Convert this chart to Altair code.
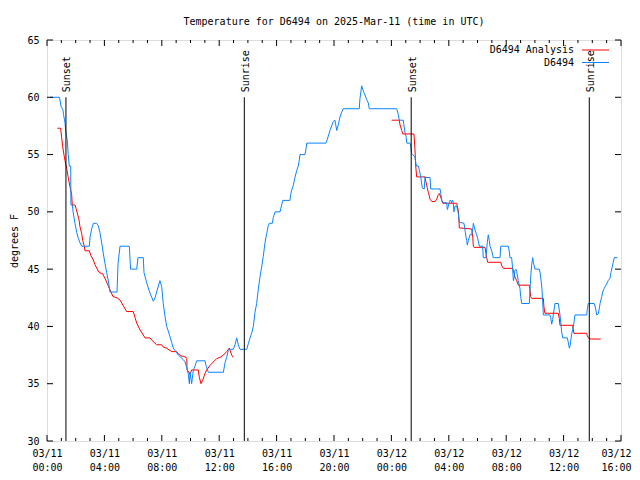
import altair as alt
import pandas as pd

# ---------------- data (hours since 2025-03-11 00:00 UTC, degrees F) ----------------
obs_hours = [0.21, 0.87, 0.98, 1.11, 1.15, 1.25, 1.32, 1.41, 1.48, 1.55, 1.65, 1.67, 1.76, 1.83, 1.95,
             2.07, 2.18, 2.30, 2.42, 2.95, 3.00, 3.11, 3.23, 3.46, 3.57, 3.69, 3.81, 3.92, 4.04, 4.16,
             4.27, 4.39, 4.88, 4.95, 5.09, 5.74, 5.82, 6.25, 6.34, 6.71, 6.76, 6.95, 7.18, 7.41, 7.53,
             7.64, 7.87, 7.99, 8.10, 8.22, 8.34, 8.45, 8.57, 8.69, 8.80, 8.92, 9.04, 9.15, 9.50, 9.62,
             9.74, 9.85, 9.92, 9.97, 10.08, 10.20, 10.31, 10.43, 11.01, 11.08, 11.24, 12.29, 12.40, 12.52, 12.63,
             12.70, 12.98, 13.10, 13.22, 13.33, 13.45, 13.92, 14.03, 14.15, 14.26, 14.38, 14.49, 14.61, 14.72, 14.84,
             14.96, 15.07, 15.19, 15.31, 15.42, 15.49, 15.70, 15.77, 15.89, 16.24, 16.43, 16.93, 16.98, 17.05, 17.16,
             17.28, 17.40, 17.51, 17.58, 17.63, 17.98, 18.05, 18.10, 19.44, 19.53, 19.60, 19.72, 19.84, 19.95, 20.07,
             20.19, 20.30, 20.42, 20.54, 20.65, 21.76, 21.81, 21.93, 22.00, 22.09, 22.16, 22.28, 22.39, 22.46, 24.37,
             24.48, 24.55, 24.83, 24.88, 24.95, 25.02, 25.07, 25.30, 25.35, 25.41, 25.48, 25.64, 25.71, 25.76, 25.87,
             25.94, 25.99, 26.06, 26.15, 26.29, 26.34, 26.69, 26.74, 27.39, 27.44, 27.51, 27.58, 27.85, 27.90, 27.97,
             28.03, 28.08, 28.15, 28.20, 28.27, 28.31, 28.36, 28.43, 28.55, 28.66, 28.73, 29.06, 29.13, 29.20, 29.25,
             29.29, 29.36, 29.43, 29.48, 29.60, 29.67, 29.71, 29.78, 29.83, 29.94, 30.01, 30.06, 30.13, 30.36, 30.40,
             30.59, 30.68, 30.75, 30.82, 30.87, 30.99, 31.06, 31.10, 31.57, 31.62, 32.15, 32.22, 32.26, 32.38, 32.45,
             32.50, 32.56, 32.61, 32.68, 32.73, 32.77, 32.84, 32.91, 32.96, 33.01, 33.08, 33.61, 33.66, 33.73, 33.78,
             33.85, 33.89, 34.01, 34.31, 34.36, 34.43, 34.49, 34.54, 34.59, 35.05, 35.10, 35.17, 35.24, 35.28, 35.40,
             35.63, 35.75, 35.82, 35.87, 35.94, 36.26, 36.33, 36.40, 36.45, 36.49, 36.56, 36.63, 36.72, 36.79, 37.61,
             37.65, 37.72, 38.14, 38.24, 38.31, 38.42, 38.49, 38.54, 38.66, 38.72, 38.82, 38.95, 39.11, 39.23, 39.30,
             39.39, 39.46, 39.53, 39.74]
obs_temps = [60, 60, 59.2, 58.9, 58.5, 57.8, 56.9, 56.3, 55, 54, 54, 50.6, 50.6, 49.9, 49,
             48.2, 47.7, 47.3, 47, 47, 47.8, 48.5, 49, 49, 48.8, 48.2, 47.3, 46.4, 45.5, 44.7,
             44, 43, 43, 45.5, 47, 47, 45, 45, 46, 46, 44.7, 43.8, 42.9, 42.2, 42.5,
             43, 44, 43.5, 42, 40.9, 40, 39.6, 39.1, 38.6, 38.1, 37.9, 37.7, 37.5, 37.1, 36.9,
             36.4, 35.8, 35, 36, 35, 36.2, 36.5, 37, 37, 36.6, 36, 36, 36.8, 37.3, 37.9,
             38, 38, 38.4, 39, 38.4, 38, 38, 38.5, 39, 39.4, 40, 41.2, 42, 43.2, 44.3,
             45.2, 46.1, 47.3, 48.1, 48.8, 49, 49, 49.5, 50, 50, 51, 51, 51.5, 51.9, 52.3,
             53, 53.6, 54, 54.5, 55, 55, 55.5, 56, 56, 56.3, 56.6, 57.1, 57.5, 57.9, 58,
             57.1, 57.6, 58.3, 58.7, 59, 59, 59.9, 61, 60.7, 60.4, 60.2, 59.8, 59.5, 59, 59,
             58.5, 58, 58, 57.5, 56.9, 56.6, 56, 56, 55.7, 55.1, 55, 54.8, 54.2, 54, 54,
             53.7, 53.4, 52.9, 52.1, 52, 53, 53, 52, 52, 51.6, 51, 50.8, 50.8, 50.2, 50.5,
             50.8, 51, 51, 50.8, 51, 50.8, 50, 50.5, 50.5, 49.9, 49.1, 49, 48.4, 47.8, 47.5,
             47.1, 47.5, 47.8, 48, 48, 48.5, 49, 48.7, 48.4, 48, 47.7, 47.4, 47, 47, 46,
             46, 47.3, 48, 47.5, 47, 46.6, 46.2, 46, 46, 47, 47, 46.5, 46, 46, 45,
             44, 44.3, 44.9, 45, 44.8, 44.5, 44, 43.6, 43.3, 42.6, 42, 42, 43.3, 44.7, 45.4,
             46, 45.6, 45, 45, 44.7, 44, 43.3, 42.2, 41, 41, 40.8, 40.2, 40.6, 41, 42,
             42, 41, 40.1, 39.5, 39, 39, 38.6, 38.1, 38.3, 38.7, 39.3, 39.7, 40.3, 41, 41,
             41.5, 42, 42, 41.5, 41, 41.1, 41.6, 42, 42.6, 43, 43.3, 43.6, 44, 44.2, 44.7,
             45.2, 45.6, 46, 46]

ana1_hours = [0.72, 0.95, 1.02, 1.09, 1.18, 1.25, 1.37, 1.48, 1.60, 1.72, 1.76, 1.95, 2.02, 2.11, 2.23,
              2.30, 2.42, 2.49, 2.60, 2.65, 2.95, 3.05, 3.23, 3.34, 3.46, 3.64, 3.88, 4.04, 4.39, 4.60,
              4.88, 5.09, 5.32, 5.55, 6.01, 6.13, 6.25, 6.48, 6.71, 6.83, 7.18, 7.30, 7.64, 7.99, 8.10,
              8.34, 8.57, 8.69, 9.04, 9.15, 9.27, 9.39, 9.50, 9.69, 9.74, 9.76, 9.85, 9.97, 10.08, 10.54,
              10.61, 10.73, 10.85, 11.01, 11.13, 11.36, 11.59, 11.83, 12.06, 12.29, 12.52, 12.70, 12.87, 12.98]
ana1_temps = [57.3, 57.3, 56.5, 55.7, 55, 54.5, 53.8, 53, 52.2, 51.5, 50.6, 50.6, 50.3, 49.9, 49.3,
              48.7, 48.1, 47.5, 47, 46.6, 46.6, 46.2, 45.8, 45.4, 45.1, 44.7, 44.6, 44.2, 43.2, 42.6,
              42.5, 42.3, 41.8, 41.3, 41.3, 40.8, 40.3, 39.7, 39.25, 39, 39, 38.8, 38.4, 38.4, 38.2,
              38.1, 37.9, 37.8, 37.8, 37.6, 37.5, 37.4, 37.4, 37.3, 37.2, 36.2, 36.1, 35.8, 36.2, 36.2,
              35.6, 35, 35.3, 35.9, 36.2, 36.6, 36.9, 37.2, 37.3, 37.5, 37.8, 38.1, 37.5, 37.3]
ana2_hours = [24.02, 24.55, 24.60, 24.72, 24.79, 25.57, 25.64, 25.69, 25.76, 26.34, 26.41, 26.50, 26.57, 26.64, 26.69,
              26.81, 27.04, 27.16, 27.23, 27.34, 27.44, 27.51, 27.58, 28.55, 28.66, 28.71, 28.73, 29.60, 29.67, 29.71,
              29.76, 30.52, 30.59, 30.64, 30.71, 31.62, 31.69, 31.80, 32.45, 32.50, 32.56, 32.61, 32.73, 32.84, 33.61,
              33.66, 33.71, 33.78, 34.59, 34.63, 34.70, 35.63, 35.70, 35.75, 36.63, 36.68, 36.72, 37.61, 37.65, 37.72,
              37.84, 38.59]
ana2_temps = [58, 58, 57.6, 57.1, 56.8, 56.8, 55.5, 54.1, 53.05, 53.05, 52.6, 52.1, 51.7, 51.4, 51.1,
              50.9, 50.9, 51.1, 51.4, 51.6, 51.3, 51, 50.75, 50.75, 50.1, 49.3, 48.6, 48.5, 47.8, 47,
              46.9, 46.9, 46.4, 46, 45.6, 45.6, 45.3, 45.07, 45.07, 44.9, 44.6, 44.3, 44, 43.6, 43.6,
              43.2, 42.6, 42.45, 42.45, 41.7, 41.15, 41.15, 40.7, 40.1, 40.1, 39.7, 39.4, 39.4, 39.2, 39.0,
              38.9, 38.9]

series_names = ["D6494 Analysis", "D6494"]
series_colors = ["#ff0000", "#0a84ff"]

event_names = ["Sunset", "Sunrise", "Sunset", "Sunrise"]
event_hours = [1.32, 13.75, 25.38, 37.79]

major_x = list(range(0, 41, 4))
minor_x = [h for h in range(0, 41) if h % 4 != 0]
major_y = list(range(30, 66, 5))

title_text = "Temperature for D6494 on 2025-Mar-11 (time in UTC)"
y_title = "degrees F"

# ---------------- chart ----------------
W, H = 574, 401
FONT = "DejaVu Sans Mono"
FS = 10
MAJ, MIN = 6, 3

xs = alt.Scale(domain=[0, 40], nice=False, zero=False)
ys = alt.Scale(domain=[30, 65], nice=False, zero=False)

obs_df = pd.DataFrame({"h": obs_hours, "t": obs_temps})
ana_df = pd.DataFrame({
    "h": ana1_hours + ana2_hours,
    "t": ana1_temps + ana2_temps,
    "seg": [1] * len(ana1_hours) + [2] * len(ana2_hours),
})
ev_df = pd.DataFrame({"h": event_hours, "name": event_names, "lo": 30, "hi": 60})
majx_df = pd.DataFrame({"h": major_x})
minx_df = pd.DataFrame({"h": minor_x})
majy_df = pd.DataFrame({"v": major_y})

x_axis = alt.Axis(
    values=major_x,
    labelExpr="[datum.value < 24 ? '03/11' : '03/12', (datum.value % 24 < 10 ? '0' : '') + (datum.value % 24) + ':00']",
    ticks=False, domain=False, grid=False, labelFont=FONT, labelFontSize=FS, labelColor="black",
    labelPadding=7, labelLineHeight=14, labelAngle=0, labelFlush=False, labelOverlap=False,
    labelBaseline="top", title=None,
    labelOffset={"condition": {"test": "datum.value >= 40", "value": -5}, "value": 0},
)
y_axis = alt.Axis(
    values=major_y, ticks=False, domain=False, grid=False, labelFont=FONT, labelFontSize=FS,
    labelColor="black", labelPadding=8, labelFlush=False, labelOverlap=False,
    title=y_title, titleFont=FONT, titleFontSize=FS, titleFontWeight="normal", titleColor="black",
    titleAngle=270, titleX=-33, titleY=H / 2, titleAlign="center", titleBaseline="middle",
)


def X(field):
    return alt.X(field, type="quantitative", scale=xs, axis=x_axis)


def Y(field):
    return alt.Y(field, type="quantitative", scale=ys, axis=y_axis)


ana = alt.Chart(ana_df).mark_line(color=series_colors[0], strokeWidth=1).encode(
    x=X("h"), y=Y("t"), detail="seg:N",
)
obs = alt.Chart(obs_df).mark_line(color=series_colors[1], strokeWidth=1).encode(
    x=X("h"), y=Y("t"),
)


def xticks(df, L):
    bot = alt.Chart(df).mark_rule(color="black", strokeWidth=1).encode(
        x=X("h"), y=alt.value(H), y2=alt.value(H - L))
    top = alt.Chart(df).mark_rule(color="black", strokeWidth=1).encode(
        x=X("h"), y=alt.value(0), y2=alt.value(L))
    return [bot, top]


yt_left = alt.Chart(majy_df).mark_rule(color="black", strokeWidth=1).encode(
    y=Y("v"), x=alt.value(0), x2=alt.value(MAJ))
yt_right = alt.Chart(majy_df).mark_rule(color="black", strokeWidth=1).encode(
    y=Y("v"), x=alt.value(W), x2=alt.value(W - MAJ))

ev_rule = alt.Chart(ev_df).mark_rule(color="black", strokeWidth=1).encode(
    x=X("h"), y=Y("lo"), y2="hi:Q",
)
ev_text = alt.Chart(ev_df).mark_text(
    angle=270, align="left", baseline="middle", dx=5, dy=1.5, font=FONT, fontSize=FS, color="black"
).encode(
    x=X("h"), y=Y("hi"), text="name:N",
)

one = pd.DataFrame({"a": [0]})
title_mark = alt.Chart(one).mark_text(
    align="center", baseline="alphabetic", font=FONT, fontSize=FS, color="black", text=title_text
).encode(x=alt.value(W / 2), y=alt.value(-15))

leg = []
for i, (nm, col) in enumerate(zip(series_names, series_colors)):
    yy = 10 + 12.5 * i
    leg.append(alt.Chart(one).mark_text(align="right", baseline="middle", font=FONT, fontSize=FS,
                                        color="black", text=nm).encode(x=alt.value(527), y=alt.value(yy)))
    leg.append(alt.Chart(one).mark_rule(color=col, strokeWidth=1).encode(
        x=alt.value(535), x2=alt.value(562), y=alt.value(yy)))

layers = ([ana, obs] + xticks(majx_df, MAJ) + xticks(minx_df, MIN)
          + [yt_left, yt_right, ev_rule, ev_text, title_mark] + leg)

chart = alt.layer(*layers).properties(
    width=W, height=H,
    autosize=alt.AutoSizeParams(type="none"),
    padding={"left": 39, "top": 32, "right": 11, "bottom": 31},
).configure_view(stroke="black", strokeWidth=1).configure(background="white")

chart.save("out.html", embed_options={"renderer": "svg", "actions": False})
